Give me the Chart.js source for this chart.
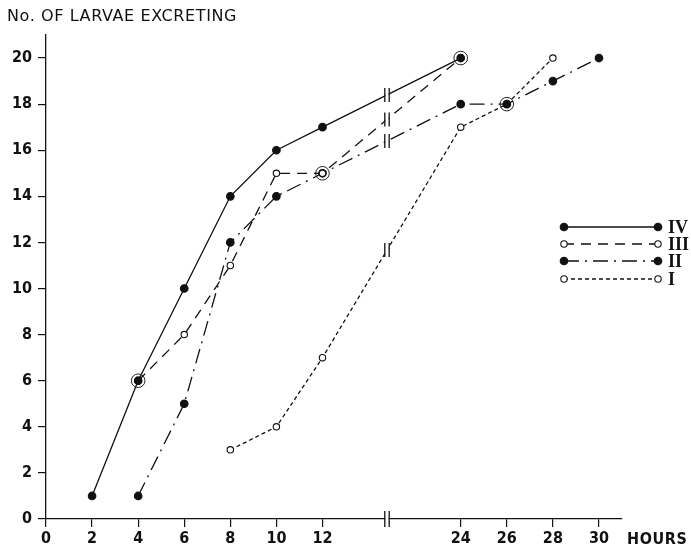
<!DOCTYPE html>
<html>
<head>
<meta charset="utf-8">
<script src="https://cdn.jsdelivr.net/npm/chart.js@4/dist/chart.umd.min.js"></script>
<style>
  body { margin: 0; background: #fff; }
  #wrap { width: 691px; height: 551px; }
</style>
</head>
<body>
<div id="wrap"><canvas id="larvae" width="691" height="551"></canvas></div>
<script>
// hours after feeding, and number of larvae excreting, one pair per stage
const hoursIV = [2, 4, 6, 8, 10, 12, 24];
const larvaeIV = [1, 6, 10, 14, 16, 17, 20];
const hoursIII = [4, 6, 8, 10, 12, 24];
const larvaeIII = [6, 8, 11, 15, 15, 20];
const hoursII = [4, 6, 8, 10, 12, 24, 26, 28, 30];
const larvaeII = [1, 5, 12, 14, 15, 18, 18, 19, 20];
const hoursI = [8, 10, 12, 24, 26, 28];
const larvaeI = [3, 4, 7, 17, 18, 20];
// points where two stages coincide (drawn with a ring)
const sameHours = [4, 12, 24, 26];
const sameLarvae = [6, 15, 20, 18];

const xTicks = [0, 2, 4, 6, 8, 10, 12, 24, 26, 28, 30];
const yTicks = [0, 2, 4, 6, 8, 10, 12, 14, 16, 18, 20];
const stageNames = ['IV', 'III', 'II', 'I'];

// axis is broken between 12 and 24 h, the gap is 6 h wide on paper
const GAP = 6;
const BREAK_AT = 14.8;
function pos(h) { return h <= 12 ? h : h - GAP; }
function pts(hs, vs) { return hs.map((h, i) => ({ x: pos(h), y: vs[i] })); }

function stage(hs, vs, dash, filled) {
  return {
    data: pts(hs, vs),
    borderColor: '#111',
    borderWidth: 1.3,
    borderDash: dash,
    pointRadius: filled ? 3.8 : 3.2,
    pointBackgroundColor: filled ? '#111' : '#fff',
    pointBorderColor: '#111',
    pointBorderWidth: 1.1,
    showLine: true,
    tension: 0,
    fill: false
  };
}

const sets = [
  stage(hoursIV, larvaeIV, [], true),
  stage(hoursIII, larvaeIII, [10, 7], false),
  stage(hoursII, larvaeII, [15, 6, 2, 6], true),
  stage(hoursI, larvaeI, [4, 3], false)
];
sets.push({
  data: pts(sameHours, sameLarvae),
  showLine: false,
  pointRadius: 6.8,
  pointBackgroundColor: 'rgba(0,0,0,0)',
  pointBorderColor: '#222',
  pointBorderWidth: 1
});

const tickFont = { family: '"DejaVu Sans Condensed", "DejaVu Sans"', weight: 'bold', size: 16 };

// the "||" marks on the axis and on each line that crosses the gap
const breakMarks = {
  id: 'breakMarks',
  afterDatasetsDraw(chart) {
    const ctx = chart.ctx;
    const xs = chart.scales.x;
    const bx = xs.getPixelForValue(BREAK_AT);
    ctx.save();
    ctx.strokeStyle = '#111';
    ctx.lineWidth = 1.3;
    function mark(y, h) {
      ctx.fillStyle = '#fff';
      ctx.fillRect(bx - 1.6, y - 4, 3.2, 8);
      ctx.beginPath();
      ctx.moveTo(bx - 2.2, y - h); ctx.lineTo(bx - 2.2, y + h);
      ctx.moveTo(bx + 2.2, y - h); ctx.lineTo(bx + 2.2, y + h);
      ctx.stroke();
    }
    for (let d = 0; d < 4; d++) {
      const meta = chart.getDatasetMeta(d);
      const ds = chart.data.datasets[d].data;
      for (let i = 0; i < ds.length - 1; i++) {
        if (ds[i].x < BREAK_AT && ds[i + 1].x > BREAK_AT) {
          const a = meta.data[i], b = meta.data[i + 1];
          const t = (bx - a.x) / (b.x - a.x);
          mark(a.y + t * (b.y - a.y), 7);
        }
      }
    }
    mark(chart.scales.y.getPixelForValue(0), 8);
    ctx.restore();
  }
};

// texts and the legend on the right
const decor = {
  id: 'decor',
  afterDraw(chart) {
    const ctx = chart.ctx;
    ctx.save();
    ctx.fillStyle = '#111';
    ctx.textBaseline = 'middle';
    ctx.font = '16px "DejaVu Sans"';
    ctx.letterSpacing = '0.6px';
    ctx.fillText('No. OF LARVAE EXCRETING', 7, 17);
    ctx.font = 'bold 16px "DejaVu Sans Condensed", "DejaVu Sans"';
    ctx.letterSpacing = '0.6px';
    ctx.fillText('HOURS', 627, 540);
    ctx.letterSpacing = '0px';

    const ly = [227, 244, 261, 279];
    for (let d = 0; d < 4; d++) {
      const s = chart.data.datasets[d];
      ctx.strokeStyle = '#111';
      ctx.lineWidth = 1.3;
      ctx.setLineDash(s.borderDash);
      ctx.beginPath();
      ctx.moveTo(564, ly[d]); ctx.lineTo(658, ly[d]);
      ctx.stroke();
      ctx.setLineDash([]);
      for (const px of [564, 658]) {
        ctx.beginPath();
        ctx.arc(px, ly[d], s.pointRadius, 0, Math.PI * 2);
        ctx.fillStyle = s.pointBackgroundColor;
        ctx.fill();
        ctx.lineWidth = 1.1;
        ctx.stroke();
      }
      ctx.fillStyle = '#111';
      ctx.font = 'bold 18px "Liberation Serif"';
      ctx.fillText(stageNames[d], 668, ly[d] + 1);
    }
    ctx.restore();
  }
};

new Chart('larvae', {
  type: 'scatter',
  data: { datasets: sets },
  plugins: [breakMarks, decor],
  options: {
    responsive: false,
    animation: false,
    layout: { padding: { top: 35, right: 69, left: 0, bottom: 0 } },
    plugins: { legend: { display: false }, tooltip: { enabled: false } },
    scales: {
      x: {
        type: 'linear',
        min: 0,
        max: 25,
        afterBuildTicks: sc => { sc.ticks = xTicks.map(h => ({ value: pos(h) })); },
        afterFit: sc => { sc.height = 32; },
        ticks: {
          autoSkip: false,
          maxRotation: 0,
          padding: 2,
          color: '#111',
          font: tickFont,
          callback: v => (v <= 12 ? v : v + GAP)
        },
        grid: { drawOnChartArea: false, tickLength: 8, color: '#111', lineWidth: 1.2 },
        border: { color: '#111', width: 1.3 }
      },
      y: {
        min: 0,
        max: 21,
        afterBuildTicks: sc => { sc.ticks = yTicks.map(v => ({ value: v })); },
        afterFit: sc => { sc.width = 46; },
        ticks: {
          padding: 6,
          color: '#111',
          font: tickFont
        },
        grid: { drawOnChartArea: false, tickLength: 8, color: '#111', lineWidth: 1.2 },
        border: { color: '#111', width: 1.3 }
      }
    }
  }
});
</script>
</body>
</html>
